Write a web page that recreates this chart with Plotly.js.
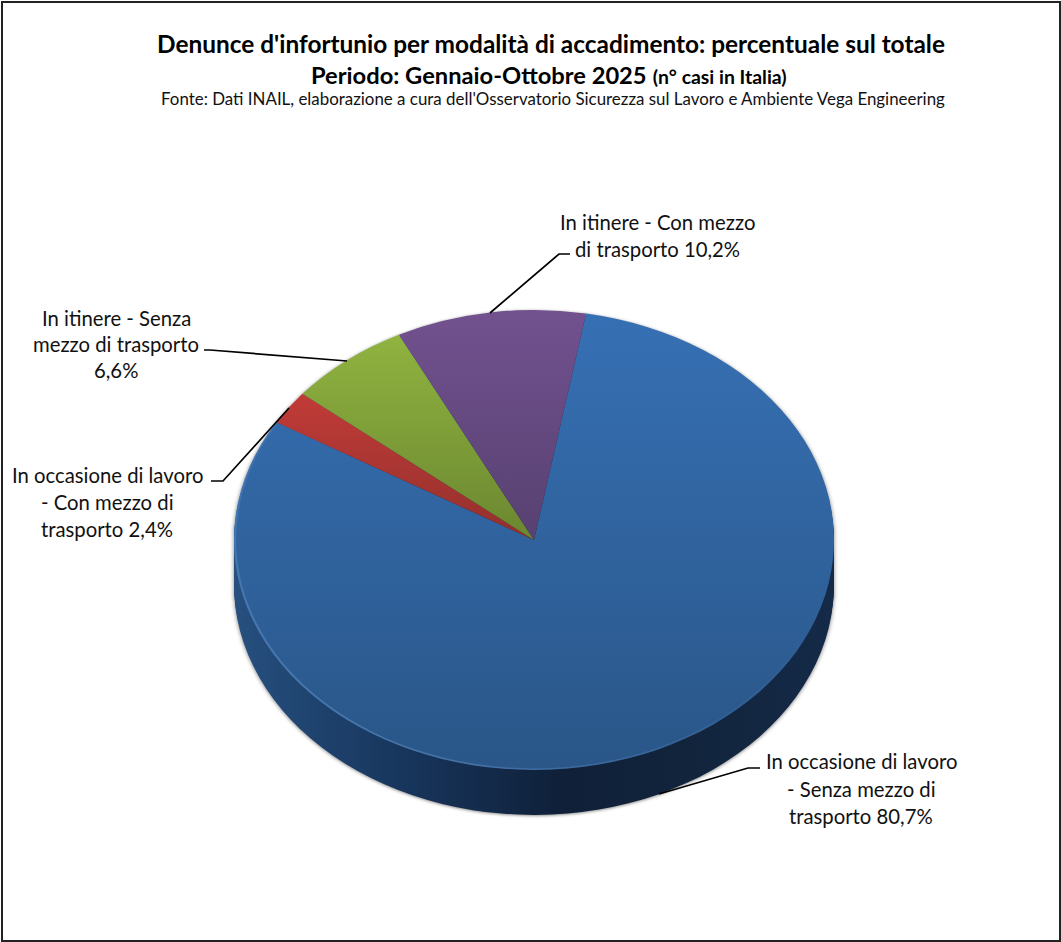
<!DOCTYPE html>
<html><head><meta charset="utf-8">
<script src="https://cdn.plot.ly/plotly-3.0.1.min.js"></script>
<style>html,body{margin:0;padding:0;background:#fff;overflow:hidden}#chart{width:1061px;height:942px}</style>
</head><body><div id="chart"></div>
<script>
const categories = ["In occasione di lavoro - Senza mezzo di trasporto","In occasione di lavoro - Con mezzo di trasporto","In itinere - Senza mezzo di trasporto","In itinere - Con mezzo di trasporto"];
const values = [80.7, 2.4, 6.6, 10.2];
const topColors = ["#3670b4","#c13b37","#90b340","#72518f"];
const bottomColors = ["#2a5688","#93302d","#6b8730","#574171"];
const titleMain = "Denunce d'infortunio per modalità di accadimento: percentuale sul totale";
const titlePeriod = "Periodo: Gennaio-Ottobre 2025";
const titleNote = "(n° casi in Italia)";
const titleSource = "Fonte: Dati INAIL, elaborazione a cura dell'Osservatorio Sicurezza sul Lavoro e Ambiente Vega Engineering";
const labelLines = [
  {x:861, ys:[761,789,816], lines:["In occasione di lavoro","- Senza mezzo di","trasporto 80,7%"]},
  {x:107, ys:[475,502,529], lines:["In occasione di lavoro","- Con mezzo di","trasporto 2,4%"]},
  {x:116, ys:[318,344,370], lines:["In itinere - Senza","mezzo di trasporto","6,6%"]},
  {x:657, ys:[222,249], lines:["In itinere - Con mezzo","di trasporto 10,2%"]}
];
const leaders = [
  "M659,794 L748,768 L760,768",
  "M289,408 L223,481 L211,481",
  "M347,361 L210,350 L204,350",
  "M490,313 L559,254 L570,254"
];
const W=1061,H=942,CX=534,CY=540,RX=300,RY=230,DEPTH=45,LAYERS=23;
const K=RY/RX, FONT='Lato, Carlito, sans-serif';

function pieTrace(offset, colors, hole){
  const c=CY+offset/K;
  return {type:'pie',labels:categories,values:values,sort:false,direction:'clockwise',rotation:10,
    textinfo:'none',hoverinfo:'skip',showlegend:false,hole:hole||0,
    marker:{colors:colors,line:{width:0}},
    domain:{x:[(CX-RX)/W,(CX+RX)/W],y:[1-(c+RX)/H,1-(c-RX)/H]}};
}
const traces=[];
for(let i=LAYERS;i>=1;i--) traces.push(pieTrace(DEPTH*i/LAYERS,["#1a3558","#1a3558","#1a3558","#1a3558"]));
traces.push(pieTrace(0,topColors));
traces.push(pieTrace(0,["#6ea0dc","rgba(0,0,0,0)","rgba(0,0,0,0)","rgba(0,0,0,0)"],0.993));

const annotations=[];
function addText(text,x,y,size,color){
  annotations.push({xref:'paper',yref:'paper',x:x/W,y:1-y/H,xanchor:'center',yanchor:'middle',
    showarrow:false,text:text,font:{family:FONT,size:size,color:color||'#111'}});
}
labelLines.forEach(l=>l.lines.forEach((t,i)=>addText(t,l.x,l.ys[i],20.3)));
addText('<b>'+titlePeriod+'</b> <b><span style="font-size:19.4px">'+titleNote+'</span></b>',549,75,23.7,'#000');
addText(titleSource,553,99,16.9,'#111');

function toPaper(p){return p.replace(/([ML])(\d+),(\d+)/g,(m,c,x,y)=>c+(x/W)+','+(1-y/H));}
const shapes=leaders.map(p=>({type:'path',path:toPaper(p),xref:'paper',yref:'paper',line:{color:'#000',width:1.7}}));
shapes.push({type:'rect',xref:'paper',yref:'paper',x0:2/W,x1:1060/W,y0:1/H,y1:1-2/H,line:{color:'#222',width:2}});

const layout={width:W,height:H,margin:{l:0,r:0,t:0,b:0},paper_bgcolor:'#fff',showlegend:false,
  title:{text:'<b>'+titleMain+'</b>',x:551/W,xanchor:'center',y:1-44/H,yanchor:'middle',font:{family:FONT,size:24.4,color:'#000'}},
  annotations:annotations,shapes:shapes};

Plotly.newPlot('chart',traces,layout,{staticPlot:true,displayModeBar:false}).then(()=>{
  const svg=document.querySelector('#chart .main-svg');
  const NS='http://www.w3.org/2000/svg';
  const defs=document.createElementNS(NS,'defs');
  function grad(id,stops,x2,y2,y1){
    const g=document.createElementNS(NS,'linearGradient');
    g.setAttribute('id',id);g.setAttribute('x1','0');g.setAttribute('y1',y1||'0');
    g.setAttribute('x2',x2);g.setAttribute('y2',y2);
    stops.forEach(s=>{const e=document.createElementNS(NS,'stop');e.setAttribute('offset',s[0]);e.setAttribute('stop-color',s[1]);
      if(s[2]!==undefined)e.setAttribute('stop-opacity',s[2]);g.appendChild(e);});
    defs.appendChild(g);
  }
  grad('side',[[0,'#27507f'],[0.12,'#1f4470'],[0.3,'#17345a'],[0.55,'#0f2038'],[0.75,'#12243c'],[1,'#142a48']],'1','0');
  grad('rim',[[0,'#6f9fd8',0.55],[0.45,'#6f9fd8',0.12],[0.65,'#6f9fd8',0]],'1','0','1');
  topColors.forEach((c,i)=>grad('face'+i,[[0,c],[1,bottomColors[i]]],'0','1'));
  svg.insertBefore(defs,svg.firstChild);
  const layer=document.querySelector('#chart .pielayer');
  layer.setAttribute('transform',`translate(0,${CY}) scale(1,${K}) translate(0,${-CY})`);
  layer.style.filter='drop-shadow(0 1px 2px rgba(0,0,0,0.5))';
  const groups=layer.querySelectorAll('.trace');
  groups.forEach((g,gi)=>{
    const kind=gi===groups.length-1?'rim':(gi===groups.length-2?'face':'side');
    g.querySelectorAll('.slice path.surface').forEach((p,i)=>{
      if(kind==='face')p.style.fill=`url(#face${i})`;
      else if(kind==='side')p.style.fill='url(#side)';
      else if(i===0)p.style.fill='url(#rim)';
    });
  });
});
</script></body></html>
